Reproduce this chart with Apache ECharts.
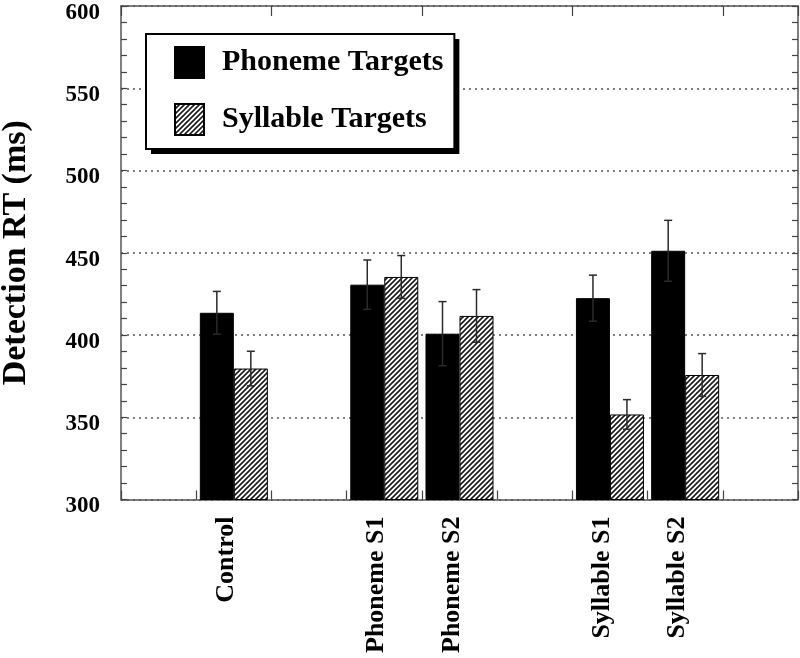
<!DOCTYPE html>
<html>
<head>
<meta charset="utf-8">
<script src="https://cdn.jsdelivr.net/npm/echarts@6/dist/echarts.min.js"></script>
<style>
html,body{margin:0;padding:0;background:#fff;}
#chart{width:800px;height:658px;}
</style>
</head>
<body>
<div id="chart"></div>
<script>
// ---- data ----
var slots = ['', 'Control', '', 'Phoneme S1', 'Phoneme S2', '', 'Syllable S1', 'Syllable S2', ''];
var conditions = ['Control', 'Phoneme S1', 'Phoneme S2', 'Syllable S1', 'Syllable S2'];
var phonemeRT = [413.5, 430.6, 400.8, 422.4, 451.2];
var syllableRT = [379.6, 435.3, 411.6, 351.7, 375.7];
var phonemeErr = [13, 15, 19.5, 14, 18.5];
var syllableErr = [10.5, 13, 16, 9, 13];
var yTicks = [300, 350, 400, 450, 500, 550, 600];
var seriesNames = ['Phoneme Targets', 'Syllable Targets'];

// ---- hatch pattern ----
function hatch() {
  var c = document.createElement('canvas');
  c.width = 5; c.height = 5;
  var g = c.getContext('2d');
  g.fillStyle = '#fff'; g.fillRect(0, 0, 5, 5);
  g.strokeStyle = '#1a1a1a'; g.lineWidth = 1.6;
  g.beginPath();
  g.moveTo(-1, 6); g.lineTo(6, -1);
  g.moveTo(-1, 1); g.lineTo(1, -1);
  g.moveTo(4, 6); g.lineTo(6, 4);
  g.stroke();
  return c;
}
var hatchFill = { image: hatch(), repeat: 'repeat' };

var FONT = 'Liberation Serif';
var BAR_W = 34;

function pairs(vals) { return conditions.map(function (c, i) { return [c, vals[i]]; }); }
function errPairs(vals, errs) { return conditions.map(function (c, i) { return [c, vals[i], errs[i]]; }); }

function errRender(side) {
  return function (params, api) {
    var x = api.value(0), v = api.value(1), e = api.value(2);
    var top = api.coord([x, v + e]);
    var bot = api.coord([x, v - e]);
    var cx = top[0] + side * BAR_W / 2;
    var cap = 4;
    var st = { stroke: '#2a2a2a', lineWidth: 1.5 };
    return {
      type: 'group',
      children: [
        { type: 'line', shape: { x1: cx, y1: top[1], x2: cx, y2: bot[1] }, style: st },
        { type: 'line', shape: { x1: cx - cap, y1: top[1], x2: cx + cap, y2: top[1] }, style: st },
        { type: 'line', shape: { x1: cx - cap, y1: bot[1], x2: cx + cap, y2: bot[1] }, style: st }
      ]
    };
  };
}

function legendBox(left, top, bg, border, z) {
  return {
    orient: 'vertical',
    left: left, top: top, z: z,
    padding: [12, 11, 13, 28],
    icon: 'rect',
    itemWidth: 29, itemHeight: 31, itemGap: 24,
    backgroundColor: bg,
    borderColor: '#000', borderWidth: border,
    selectedMode: false,
    textStyle: { fontFamily: FONT, fontWeight: 'bold', fontSize: 30, color: '#000', lineHeight: 31, padding: [0, 0, 0, 13] },
    data: seriesNames
  };
}

var axisLineStyle = { color: '#555', width: 1.5 };
var chart = echarts.init(document.getElementById('chart'), null, { renderer: 'canvas' });
chart.setOption({
  animation: false,
  backgroundColor: '#fff',
  grid: { left: 121, right: 2, top: 6, bottom: 158.5, containLabel: false, outerBoundsMode: 'none' },
  legend: [
    legendBox(151, 39, '#000', 0, 3),
    legendBox(146, 34, '#fff', 2, 4)
  ],
  xAxis: [{
    type: 'category', data: slots, position: 'bottom',
    axisLine: { lineStyle: axisLineStyle },
    axisTick: { show: true, inside: true, length: 9, lineStyle: { color: '#444', width: 1.2 } },
    axisLabel: { interval: 0, rotate: 90, margin: 17, fontFamily: FONT, fontWeight: 'bold', fontSize: 26, color: '#000',
      verticalAlign: 'bottom', lineHeight: 15 },
    splitLine: { show: false }
  }, {
    type: 'category', data: slots, position: 'top',
    axisLine: { lineStyle: axisLineStyle },
    axisTick: { show: true, inside: true, length: 10, lineStyle: { color: '#444', width: 1.2 } },
    axisLabel: { show: false },
    splitLine: { show: false }
  }],
  yAxis: [{
    type: 'value', min: 300, max: 600, interval: 50, position: 'left',
    name: 'Detection RT (ms)', nameLocation: 'middle', nameGap: 88,
    nameTextStyle: { fontFamily: FONT, fontWeight: 'bold', fontSize: 34, color: '#000' },
    axisLine: { show: true, lineStyle: axisLineStyle },
    axisTick: { show: true, inside: true, length: 6, lineStyle: { color: '#444', width: 1.2 } },
    minorTick: { show: true, splitNumber: 5, length: 6, lineStyle: { color: '#444', width: 1.2 } },
    axisLabel: { margin: 21, fontFamily: FONT, fontWeight: 'bold', fontSize: 23, color: '#000',
      verticalAlign: 'top', lineHeight: 14,
      formatter: function (v) { return yTicks.indexOf(v) >= 0 ? String(v) : ''; } },
    splitLine: { show: true, lineStyle: { color: '#555', width: 1.5, type: [2, 4] } }
  }, {
    type: 'value', min: 300, max: 600, interval: 50, position: 'right',
    axisLine: { show: true, lineStyle: axisLineStyle },
    axisTick: { show: true, inside: true, length: 6, lineStyle: { color: '#444', width: 1.2 } },
    minorTick: { show: true, splitNumber: 5, length: 6, lineStyle: { color: '#444', width: 1.2 } },
    axisLabel: { show: false },
    splitLine: { show: false }
  }],
  series: [{
    name: seriesNames[0], type: 'bar', barWidth: BAR_W, barGap: '0%',
    itemStyle: { color: '#000', borderColor: '#000', borderWidth: 1 },
    data: pairs(phonemeRT), z: 2
  }, {
    name: seriesNames[1], type: 'bar', barWidth: BAR_W, barGap: '0%',
    itemStyle: { color: hatchFill, borderColor: '#000', borderWidth: 1 },
    data: pairs(syllableRT), z: 2
  }, {
    name: 'pErr', type: 'custom', renderItem: errRender(-1), data: errPairs(phonemeRT, phonemeErr), z: 5, silent: true
  }, {
    name: 'sErr', type: 'custom', renderItem: errRender(1), data: errPairs(syllableRT, syllableErr), z: 5, silent: true
  }]
});
</script>
</body>
</html>
